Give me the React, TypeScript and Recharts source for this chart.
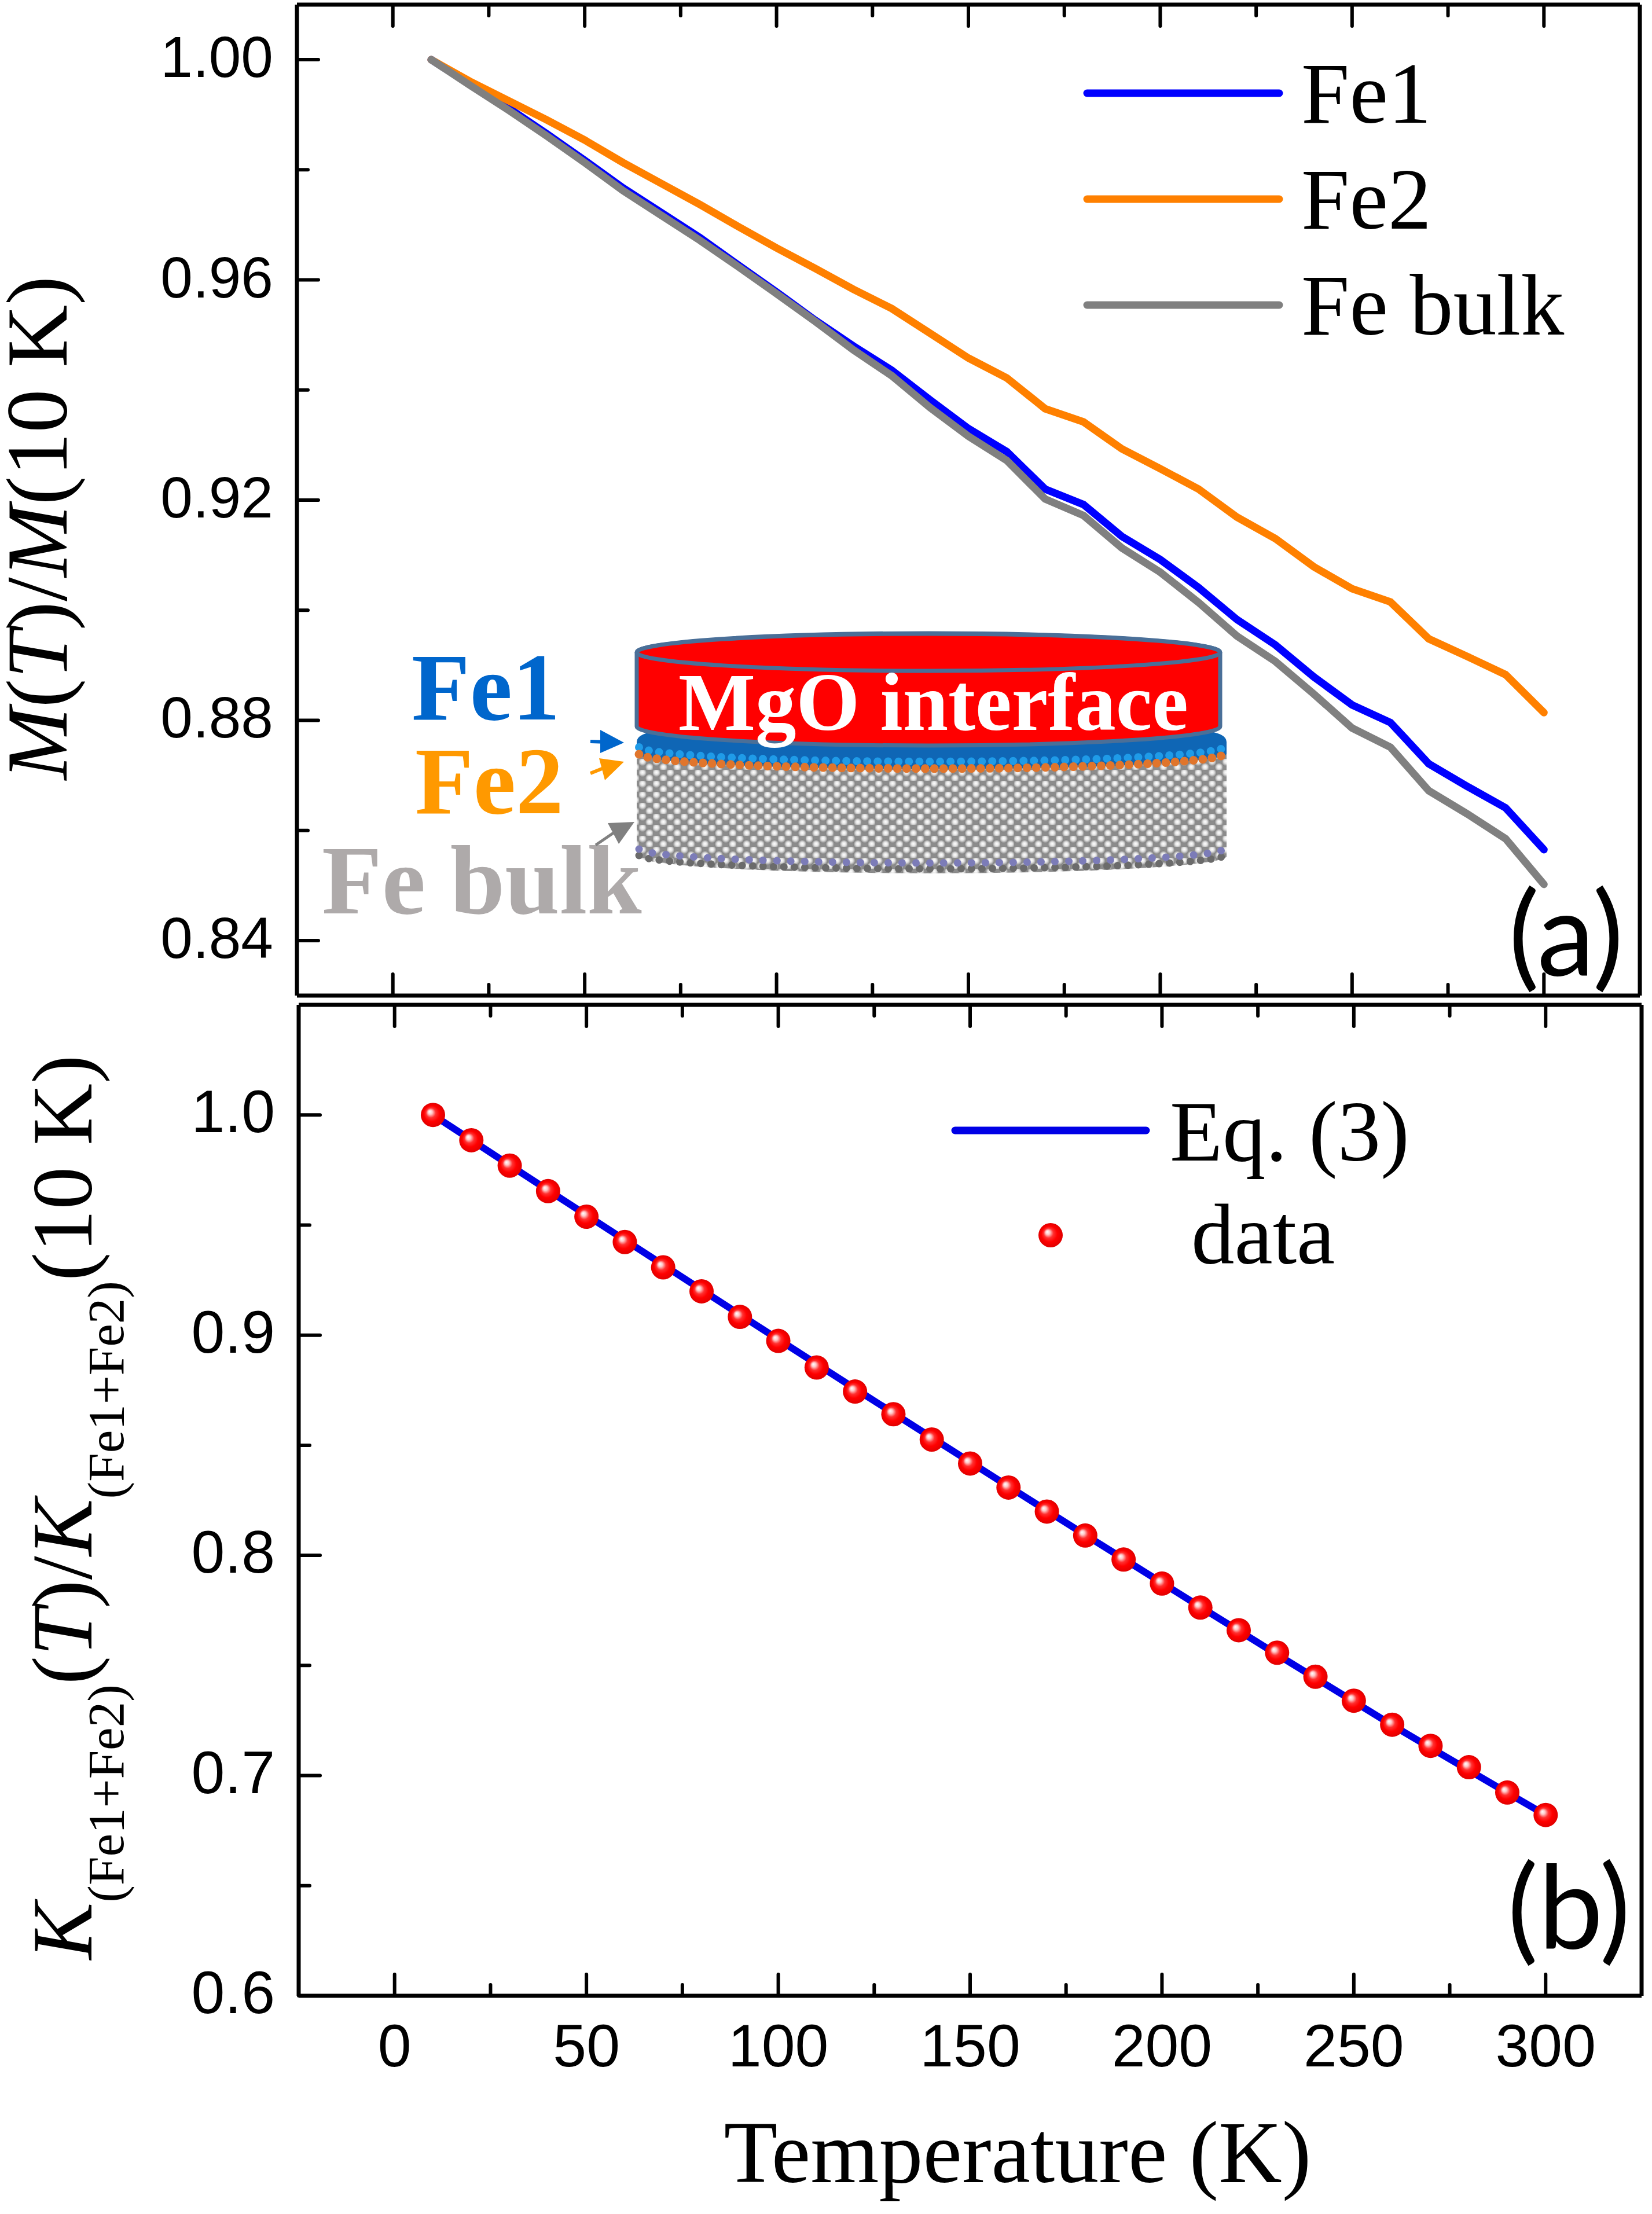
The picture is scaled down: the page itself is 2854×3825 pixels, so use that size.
import { LineChart, Line, XAxis, YAxis } from 'recharts';

const temps = [10, 20, 30, 40, 50, 60, 70, 80, 90, 100, 110, 120, 130, 140, 150, 160, 170, 180, 190, 200, 210, 220, 230, 240, 250, 260, 270, 280, 290, 300];

const fe1 = [1, 0.9956, 0.9913, 0.9866, 0.9817, 0.9767, 0.9722, 0.9677, 0.9627, 0.9578, 0.9527, 0.948, 0.9436, 0.9382, 0.933, 0.9288, 0.922, 0.9192, 0.9134, 0.9092, 0.9041, 0.8983, 0.8937, 0.8879, 0.8828, 0.8796, 0.8721, 0.868, 0.8641, 0.8565];
const fe2 = [1, 0.9961, 0.9926, 0.9891, 0.9854, 0.9813, 0.9775, 0.9737, 0.9697, 0.9658, 0.9621, 0.9583, 0.9548, 0.9503, 0.9458, 0.9422, 0.9366, 0.9342, 0.9293, 0.9257, 0.922, 0.9169, 0.913, 0.9079, 0.9039, 0.9015, 0.8948, 0.8916, 0.8883, 0.8814];
const feBulk = [1, 0.9954, 0.9909, 0.9862, 0.9813, 0.9762, 0.9717, 0.9672, 0.9624, 0.9575, 0.9525, 0.9473, 0.9426, 0.9368, 0.9316, 0.9272, 0.9202, 0.9172, 0.9113, 0.9069, 0.9014, 0.8953, 0.8907, 0.8848, 0.8786, 0.8751, 0.8672, 0.863, 0.8585, 0.8502];

const kData = [1, 0.9885, 0.977, 0.9654, 0.9538, 0.9423, 0.9308, 0.9199, 0.9083, 0.8974, 0.8853, 0.8744, 0.8641, 0.8526, 0.8417, 0.8308, 0.8199, 0.809, 0.7981, 0.7872, 0.7763, 0.766, 0.7558, 0.7449, 0.734, 0.7231, 0.7135, 0.7038, 0.6923, 0.6821];
const kFit = [1, 0.9886, 0.9772, 0.9658, 0.9545, 0.9432, 0.9319, 0.9206, 0.9093, 0.8981, 0.8869, 0.8757, 0.8646, 0.8535, 0.8424, 0.8313, 0.8203, 0.8093, 0.7984, 0.7875, 0.7766, 0.7658, 0.755, 0.7443, 0.7336, 0.7229, 0.7126, 0.7024, 0.6922, 0.6821];

const xTicks = [0, 25, 50, 75, 100, 125, 150, 175, 200, 225, 250, 275, 300];
const xMajor = [0, 50, 100, 150, 200, 250, 300];
const topTicks = [0.84, 0.86, 0.88, 0.9, 0.92, 0.94, 0.96, 0.98, 1.0];
const topMajor = [0.84, 0.88, 0.92, 0.96, 1.0];
const bottomTicks = [0.6, 0.65, 0.7, 0.75, 0.8, 0.85, 0.9, 0.95, 1.0];
const bottomMajor = [0.6, 0.7, 0.8, 0.9, 1.0];

const topData = temps.map((t, i) => ({ t, fe1: fe1[i], fe2: fe2[i], bulk: feBulk[i] }));
const bottomData = temps.map((t, i) => ({ t, fit: kFit[i], data: kData[i] }));

const SANS = 'Liberation Sans';
const SERIF = 'Liberation Serif';
const MAJOR = 37;
const MINOR = 19;
const AXIS = { stroke: '#000', strokeWidth: 7 };

// ticks point into the frame on every side, so they are drawn by hand
const xTickUp = (labels: boolean) => (p: any) => {
  const major = xMajor.includes(p.payload.value);
  return (
    <g>
      <line x1={p.x} x2={p.x} y1={p.y} y2={p.y - (major ? MAJOR : MINOR)} stroke="#000" strokeWidth={6} strokeLinecap="round" />
      {labels && major && (
        <text x={p.x} y={p.y + 122} textAnchor="middle" fontFamily={SANS} fontSize={104} fill="#000">{p.payload.value}</text>
      )}
    </g>
  );
};

const xTickDown = (p: any) => {
  const major = xMajor.includes(p.payload.value);
  return <line x1={p.x} x2={p.x} y1={p.y} y2={p.y + (major ? MAJOR : MINOR)} stroke="#000" strokeWidth={6} strokeLinecap="round" />;
};

const yTick = (majors: number[], digits: number, size: number) => (p: any) => {
  const major = majors.some(m => Math.abs(m - p.payload.value) < 1e-6);
  return (
    <g>
      <line x1={p.x} x2={p.x + (major ? MAJOR : MINOR)} y1={p.y} y2={p.y} stroke="#000" strokeWidth={6} strokeLinecap="round" />
      {major && (
        <text x={p.x - 41} y={p.y + 30} textAnchor="end" fontFamily={SANS} fontSize={size} fill="#000">{p.payload.value.toFixed(digits)}</text>
      )}
    </g>
  );
};

const sphereDot = (p: any) => <circle key={p.index} cx={p.cx} cy={p.cy} r={21} fill="url(#sphere)" />;

const LegendRow = ({ y, color, label }: { y: number; color: string; label: string }) => (
  <g>
    <line x1={1878} x2={2210} y1={y} y2={y} stroke={color} strokeWidth={13} strokeLinecap="round" />
    <text x={2248} y={y + 51} fontFamily={SERIF} fontSize={150} fill="#000">{label}</text>
  </g>
);

const dotted = (d: string, color: string, width: number, gap: number) => (
  <path d={d} fill="none" stroke={color} strokeWidth={width} strokeLinecap="round" strokeDasharray={`0 ${gap}`} />
);

const Inset = () => (
  <g>
    <defs>
      <radialGradient id="atom" cx="0.5" cy="0.5" r="0.5" fx="0.5" fy="0.45">
        <stop offset="0%" stopColor="#ffffff" />
        <stop offset="45%" stopColor="#e2e2e2" />
        <stop offset="100%" stopColor="#7d7d7d" />
      </radialGradient>
      <pattern id="atoms" width={24} height={19} patternUnits="userSpaceOnUse">
        <rect width={24} height={19} fill="#8c8c8c" />
        <circle cx={6} cy={5} r={8} fill="url(#atom)" />
        <circle cx={18} cy={14.5} r={8} fill="url(#atom)" />
      </pattern>
    </defs>
    <path d="M1100 1300 A510 27 0 0 0 2119 1300 V1480 A510 30 0 0 1 1100 1480 Z" fill="url(#atoms)" />
    {dotted('M1104 1478 A506 24 0 0 0 2115 1478', '#6b6b6b', 13, 18)}
    {dotted('M1104 1467 A506 25 0 0 0 2115 1467', '#7c7cb8', 13, 24)}
    <path d="M1100 1282 Q1100 1268 1130 1264 L2090 1264 Q2119 1268 2119 1282 V1303 A510 27 0 0 1 1100 1303 Z" fill="#0f66b5" />
    {dotted('M1104 1291 A506 26 0 0 0 2115 1291', '#1f9be8', 14, 18)}
    {dotted('M1104 1303 A506 26 0 0 0 2115 1303', '#e0752c', 15, 16)}
    <path d="M1100 1127 V1255 A504 33 0 0 0 2108 1255 V1127 A504 33 0 0 0 1100 1127 Z" fill="#ff0000" stroke="#4a6f98" strokeWidth={7} />
    <ellipse cx={1604} cy={1127} rx={504} ry={32} fill="#ff0000" stroke="#4a6f98" strokeWidth={7} />
    <text x={1172} y={1261} fontFamily={SERIF} fontWeight="bold" fontSize={141} fill="#fff">MgO interface</text>
    <text x={711} y={1243} fontFamily={SERIF} fontWeight="bold" fontSize={165} fill="#0066cc">Fe1</text>
    <text x={717} y={1405} fontFamily={SERIF} fontWeight="bold" fontSize={165} fill="#ff9900">Fe2</text>
    <text x={556} y={1578} fontFamily={SERIF} fontWeight="bold" fontSize={170} fill="#aeaaaa">Fe bulk</text>
    <line x1={1020} y1={1281} x2={1050} y2={1282} stroke="#0066cc" strokeWidth={6} />
    <polygon points="1037,1261 1078,1283 1037,1301" fill="#0066cc" />
    <line x1={1020} y1={1336} x2={1055} y2={1322} stroke="#ff9900" strokeWidth={6} />
    <polygon points="1035,1310 1078,1316 1045,1348" fill="#ff9900" />
    <line x1={1029} y1={1460} x2={1070} y2={1432} stroke="#808080" strokeWidth={5} />
    <polygon points="1050,1422 1096,1420 1069,1458" fill="#808080" />
  </g>
);

const App = () => (
  <div style={{ position: 'absolute', left: 0, top: 0, width: 2854, height: 3825, background: '#fff' }}>
    <div style={{ position: 'absolute', left: 0, top: 0 }}>
      <LineChart width={2854} height={1730} data={topData} margin={{ top: 7, left: 512, right: 20, bottom: 9 }}>
        <XAxis xAxisId="b" dataKey="t" type="number" domain={[-25, 325]} ticks={xTicks} interval={0} height={1} tickSize={0} tickMargin={0} tickLine={false} axisLine={AXIS} tick={xTickUp(false)} />
        <XAxis xAxisId="t" orientation="top" dataKey="t" type="number" domain={[-25, 325]} ticks={xTicks} interval={0} height={1} tickSize={0} tickMargin={0} tickLine={false} axisLine={AXIS} tick={xTickDown} />
        <YAxis yAxisId="l" type="number" domain={[0.83, 1.01]} ticks={topTicks} interval={0} width={1} tickSize={0} tickMargin={0} tickLine={false} axisLine={AXIS} tick={yTick(topMajor, 2, 100)} />
        <YAxis yAxisId="r" orientation="right" type="number" domain={[0.83, 1.01]} width={1} tick={false} tickLine={false} axisLine={AXIS} />
        <Line xAxisId="b" yAxisId="l" dataKey="fe1" stroke="#0000ff" strokeWidth={13} strokeLinecap="round" dot={false} isAnimationActive={false} />
        <Line xAxisId="b" yAxisId="l" dataKey="fe2" stroke="#ff8000" strokeWidth={13} strokeLinecap="round" dot={false} isAnimationActive={false} />
        <Line xAxisId="b" yAxisId="l" dataKey="bulk" stroke="#808080" strokeWidth={13} strokeLinecap="round" dot={false} isAnimationActive={false} />
        <Inset />
        <LegendRow y={161} color="#0000ff" label="Fe1" />
        <LegendRow y={344} color="#ff8000" label="Fe2" />
        <LegendRow y={527} color="#808080" label="Fe bulk" />
        <text x={2606} y={1685} fontFamily="Lato" fontSize={200} fill="#000">(a)</text>
        <text transform="translate(115 912) rotate(-90)" textAnchor="middle" fontFamily={SERIF} fontSize={150} fill="#000">
          <tspan fontStyle="italic">M</tspan>(<tspan fontStyle="italic">T</tspan>)/<tspan fontStyle="italic">M</tspan>(10 K)
        </text>
      </LineChart>
    </div>
    <div style={{ position: 'absolute', left: 0, top: 1730 }}>
      <LineChart width={2854} height={2095} data={bottomData} margin={{ top: 5, left: 515, right: 17, bottom: 376 }}>
        <defs>
          <radialGradient id="sphere" cx="0.5" cy="0.5" r="0.5" fx="0.36" fy="0.36">
            <stop offset="0%" stopColor="#ffffff" />
            <stop offset="18%" stopColor="#ffc8c8" />
            <stop offset="40%" stopColor="#ff3030" />
            <stop offset="65%" stopColor="#ff0000" />
            <stop offset="100%" stopColor="#e00000" />
          </radialGradient>
        </defs>
        <XAxis xAxisId="b" dataKey="t" type="number" domain={[-25, 325]} ticks={xTicks} interval={0} height={1} tickSize={0} tickMargin={0} tickLine={false} axisLine={AXIS} tick={xTickUp(true)} />
        <XAxis xAxisId="t" orientation="top" dataKey="t" type="number" domain={[-25, 325]} ticks={xTicks} interval={0} height={1} tickSize={0} tickMargin={0} tickLine={false} axisLine={AXIS} tick={xTickDown} />
        <YAxis yAxisId="l" type="number" domain={[0.6, 1.05]} ticks={bottomTicks} interval={0} width={1} tickSize={0} tickMargin={0} tickLine={false} axisLine={AXIS} tick={yTick(bottomMajor, 1, 104)} />
        <YAxis yAxisId="r" orientation="right" type="number" domain={[0.6, 1.05]} width={1} tick={false} tickLine={false} axisLine={AXIS} />
        <Line xAxisId="b" yAxisId="l" dataKey="fit" stroke="#0000e6" strokeWidth={12} strokeLinecap="round" dot={false} isAnimationActive={false} />
        <Line xAxisId="b" yAxisId="l" dataKey="data" stroke="none" dot={sphereDot} isAnimationActive={false} />
        <line x1={1650} x2={1980} y1={223} y2={223} stroke="#0000e6" strokeWidth={13} strokeLinecap="round" />
        <text x={2021} y={275} fontFamily={SERIF} fontSize={149} fill="#000">Eq. (3)</text>
        <circle cx={1815} cy={404} r={21} fill="url(#sphere)" />
        <text x={2058} y={453} fontFamily={SERIF} fontSize={149} fill="#000">data</text>
        <text x={2604} y={1637} fontFamily="Lato" fontSize={200} fill="#000">(b)</text>
        <text transform="translate(158 874) rotate(-90)" textAnchor="middle" fontFamily={SERIF} fontSize={148} fill="#000">
          <tspan fontStyle="italic">K</tspan>
          <tspan fontSize={89} dy={55}>(Fe1+Fe2)</tspan>
          <tspan dy={-55}>(</tspan><tspan fontStyle="italic">T</tspan>)/<tspan fontStyle="italic">K</tspan>
          <tspan fontSize={89} dy={55}>(Fe1+Fe2)</tspan>
          <tspan dy={-55}>(10 K)</tspan>
        </text>
        <text x={1758} y={2040} textAnchor="middle" fontFamily={SERIF} fontSize={152} fill="#000">Temperature (K)</text>
      </LineChart>
    </div>
  </div>
);

export default App;
